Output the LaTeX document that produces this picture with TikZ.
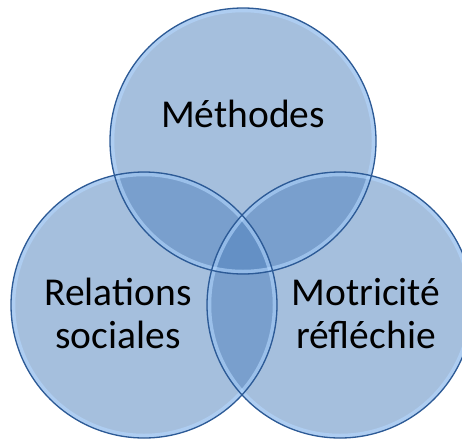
\documentclass[tikz,border=0pt]{standalone}
\usepackage{fontspec}
\setmainfont{Carlito}
\begin{document}
\begin{tikzpicture}[x=1pt,y=-1pt,
  setfill/.style={fill={rgb,255:red,79;green,129;blue,189},fill opacity=0.51},
  setring/.style={draw={rgb,255:red,180;green,216;blue,255},line width=3.5pt,draw opacity=0.6},
  setline/.style={draw={rgb,255:red,44;green,90;blue,150},line width=1.3pt},
  lbl/.style={font=\fontsize{39.5}{47}\selectfont,text=black,anchor=base,inner sep=0pt}]
\useasboundingbox (0,0) rectangle (462,439);
\begin{scope}
\clip (0,0) rectangle (462,439);
\coordinate (ct) at (243,141);
\coordinate (cl) at (144,305);
\coordinate (cr) at (340,305);
\foreach \c in {ct,cl,cr} {\fill[setfill] (\c) circle (133);}
\foreach \c in {ct,cl,cr} {\draw[setring] (\c) circle (130.5);}
\foreach \c in {ct,cl,cr} {\draw[setline] (\c) circle (133);}
\end{scope}
\node[lbl] (m) at (243,127) {Méthodes};
\node[lbl] (r1) at (118,305) {Relations};
\node[lbl] (r2) at (118,348) {sociales};
\node[lbl] (t1) at (366,305) {Motricité};
\node[lbl] (t2) at (366,348) {réfléchie};
\end{tikzpicture}
\end{document}
